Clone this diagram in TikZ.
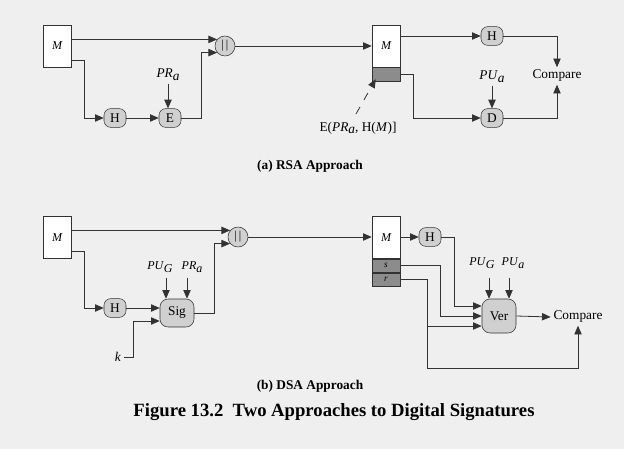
\documentclass[tikz,border=0pt]{standalone}
\usepackage{fontspec}
\setmainfont{Liberation Serif}
\usetikzlibrary{arrows.meta,calc,positioning}
\definecolor{paper}{RGB}{239,239,239}
\definecolor{opfill}{RGB}{208,208,208}
\definecolor{tagfill}{RGB}{140,140,140}
\definecolor{ink}{RGB}{50,50,50}
\tikzset{
  msgbox/.style={draw=ink,fill=white,minimum width=21pt,minimum height=31.5pt,inner sep=0pt,font=\small\itshape},
  tagbox/.style={draw=ink,fill=tagfill,minimum width=21pt,minimum height=10pt,inner sep=0pt,font=\scriptsize\itshape},
  op/.style={draw=ink,fill=opfill,rounded corners=5pt,minimum width=16.5pt,minimum height=14pt,inner sep=0pt},
  joinop/.style={draw=ink,fill=opfill,circle,minimum size=15pt,inner sep=0pt,font=\small},
  bigop/.style={draw=ink,fill=opfill,rounded corners=6pt,minimum width=25.5pt,minimum height=21pt,inner sep=0pt},
  lbl/.style={inner sep=2pt},
  conn/.style={draw=ink,line width=0.6pt},
  arr/.style={conn,-{Triangle[length=6.5pt,width=5.5pt]}},
  lead/.style={draw=ink,line width=0.6pt,dash pattern=on 6pt off 6pt,-{Triangle[length=6.5pt,width=5.5pt]}}
}
\newcommand{\kk}[2]{\textit{#1}\raisebox{-0.45ex}{\textit{#2}}}

\begin{document}
\begin{tikzpicture}[x=0.75pt,y=-0.75pt]
\fill[paper] (0,0) rectangle (624,449);
\useasboundingbox (0,0) rectangle (624,449);
% (a) RSA approach
\node[msgbox] (Ma) at (57,46) {M};
\node[joinop] (cata) at (225,46) {|\,|};
\node[op] (Ha) at (115,118) {H};
\node[op] (Ea) at (170,118) {E};
\node[lbl] (PRa) at (168,75) {\kk{PR}{a}};
\node[msgbox] (Mb) at (386,46) {M};
\node[tagbox,below=0pt of Mb] (sigA) {};
\node[op] (Hb) at (492,36) {H};
\node[op] (Db) at (492,118) {D};
\node[lbl] (PUa) at (492,77) {\kk{PU}{a}};
\node[lbl] (cmpa) at (557,76) {Compare};
\node[lbl] (sigAl) at (358,128) {E(\kk{PR}{a}, H(\textit{M})]};
\coordinate (ldA) at (356,114);
\node[lbl,font=\bfseries] (capa) at (310,166) {(a) RSA Approach};
\draw[arr] (Ma.east |- cata.140) -- (cata.140);
\draw[arr] ($(Ma.east)+(0,14)$) -- ++(13,0) |- (Ha.west);
\draw[arr] (Ha) -- (Ea);
\draw[arr] (PRa.south) -- (PRa.south |- Ea.north);
\draw[arr] (Ea.east) -- ++(20,0) |- (cata.220);
\draw[arr] (cata.east) -- (Mb.west);
\draw[arr] (Mb.east |- Hb.west) -- (Hb.west);
\draw[arr] (Hb.east) -| (cmpa.north);
\draw[arr] (sigA.east) -- ++(13,0) |- (Db.west);
\draw[arr] (PUa.south) -- (Db.north);
\draw[arr] (Db.east) -| (cmpa.south);
\draw[lead] (ldA) -- ($(sigA.south west)+(4,-2)$);
% (b) DSA approach
\node[msgbox] (Mc) at (57,237.5) {M};
\node[joinop] (catb) at (238,237) {|\,|};
\node[op] (Hc) at (115,308) {H};
\node[bigop] (Sig) at (177,313) {Sig};
\node[lbl,font=\small] (PUG) at (160,267) {\kk{PU}{G}};
\node[lbl,font=\small] (PRb) at (192,267) {\kk{PR}{a}};
\node[lbl] (kl) at (118,357) {\textit{k}};
\node[msgbox] (Md) at (386,237.5) {M};
\node[tagbox,below=0pt of Md] (sB) {s};
\node[tagbox,below=0pt of sB] (rB) {r};
\node[op] (Hd) at (430,237) {H};
\node[bigop,minimum height=25.5pt] (Ver) at (499,316) {Ver};
\node[lbl,font=\small] (PUG2) at (482,263) {\kk{PU}{G}};
\node[lbl,font=\small] (PUa2) at (513,263) {\kk{PU}{a}};
\node[lbl] (cmpb) at (578,317) {Compare};
\node[lbl,font=\bfseries] (capb) at (310,386) {(b) DSA Approach};
\node[lbl,font=\fontsize{14}{16}\bfseries] (title) at (334,412) {Figure 13.2\ \ Two Approaches to Digital Signatures};
\draw[arr] (Mc.east |- catb.140) -- (catb.140);
\draw[arr] ($(Mc.east)+(0,13.5)$) -- ++(13,0) |- (Hc.west);
\draw[arr] (Hc.east) -- (Hc.east -| Sig.west);
\draw[arr] (kl.east) -- ++(9,0) |- ($(Sig.west)+(0,8)$);
\draw[arr] ($(Sig.north)+(-11,-21)$) -- ++(0,21);
\draw[arr] ($(Sig.north)+(10,-21)$) -- ++(0,21);
\draw[arr] (Sig.east) -- ++(20,0) |- (catb.220);
\draw[arr] (catb.east) -- (Md.west |- catb.east);
\draw[arr] (Md.east |- Hd.west) -- (Hd.west);
\draw[arr] (Hd.east) -- ++(13,0) |- ($(Ver.west)+(0,-10)$);
\draw[arr] (sB.east) -- ++(40,0) |- (Ver.west);
\draw[arr] (rB.east) -- ++(27,0) |- ($(Ver.west)+(0,10)$);
\draw[arr] (rB.east) -- ++(27,0) -- ++(0,89) -| (cmpb.south);
\draw[arr] ($(Ver.north)+(-10,-21)$) -- ++(0,21);
\draw[arr] ($(Ver.north)+(10,-21)$) -- ++(0,21);
\draw[arr] (Ver.east) -- (cmpb.west);
\end{tikzpicture}
\end{document}
